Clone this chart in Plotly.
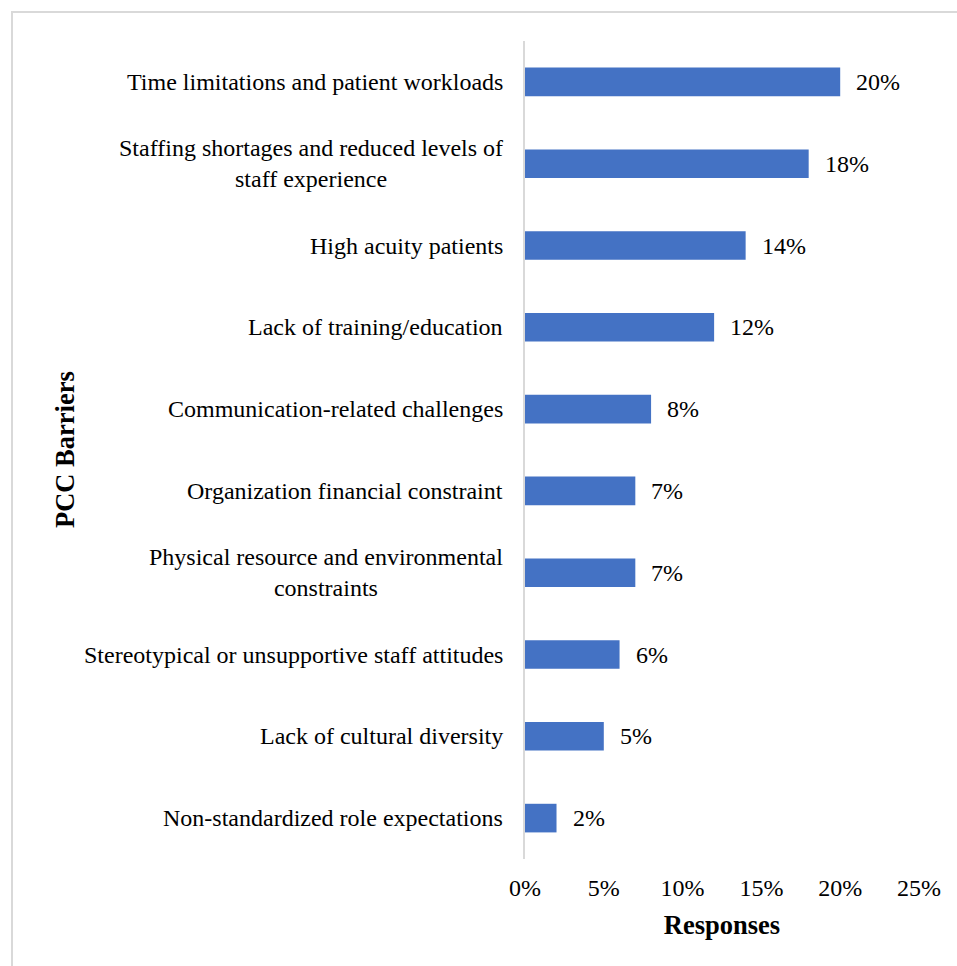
import plotly.graph_objects as go

# Barriers to person-centred care, top to bottom as listed
barriers = [
    "Time limitations and patient workloads",
    "Staffing shortages and reduced levels of<br>staff experience",
    "High acuity patients",
    "Lack of training/education",
    "Communication-related challenges",
    "Organization financial constraint",
    "Physical resource and environmental<br>constraints",
    "Stereotypical or unsupportive staff attitudes",
    "Lack of cultural diversity",
    "Non-standardized role expectations",
]
responses = [20, 18, 14, 12, 8, 7, 7, 6, 5, 2]
x_ticks = [0, 5, 10, 15, 20, 25]
x_tick_labels = ["0%", "5%", "10%", "15%", "20%", "25%"]

W, H = 957, 966
ML, MR, MT, MB = 525, 38, 41, 107
FONT = "Liberation Serif, Times New Roman, serif"
FS = 24
TS = 26.5
BLUE = "#4472C4"
GRID = "#D9D9D9"

fig = go.Figure(
    go.Bar(
        x=responses,
        y=barriers,
        orientation="h",
        marker=dict(color=BLUE, line=dict(width=0)),
        width=0.35,
        hoverinfo="skip",
    )
)

# value labels to the right of each bar
for b, v in zip(barriers, responses):
    fig.add_annotation(
        x=v, y=b, xref="x", yref="y", text=f"{v}%", showarrow=False,
        xanchor="left", xshift=14, font=dict(family=FONT, size=FS, color="#000"),
    )

# category labels, centred per line and right-aligned against the axis
for b in barriers:
    fig.add_annotation(
        x=0, y=b, xref="paper", yref="y", text=b, showarrow=False,
        xanchor="right", align="center", xshift=-20,
        font=dict(family=FONT, size=FS, color="#000"),
    )

pw = W - ML - MR
ph = H - MT - MB
# outer chart border
fig.add_shape(
    type="rect", xref="paper", yref="paper",
    x0=(12 - ML) / pw, x1=(W + 20 - ML) / pw,
    y0=-(H + 20 - MT - ph) / ph, y1=(ph + MT - 12) / ph,
    line=dict(color=GRID, width=2), fillcolor="rgba(0,0,0,0)",
)

fig.update_layout(
    width=W, height=H,
    margin=dict(l=ML, r=MR, t=MT, b=MB),
    paper_bgcolor="white", plot_bgcolor="white",
    showlegend=False,
    font=dict(family=FONT, size=FS, color="#000"),
    xaxis=dict(
        range=[0, 25], tickvals=x_ticks, ticktext=x_tick_labels,
        showgrid=False, zeroline=False, showline=False, ticks="",
        tickfont=dict(family=FONT, size=FS, color="#000"),
        ticklabelstandoff=12,
        title=dict(text="<b>Responses</b>", standoff=15,
                   font=dict(family=FONT, size=TS, color="#000")),
        fixedrange=True,
    ),
    yaxis=dict(
        autorange="reversed", showticklabels=False, ticks="",
        showgrid=False, zeroline=False,
        showline=True, linecolor=GRID, linewidth=2,
        fixedrange=True,
    ),
)

fig.add_annotation(
    x=0, y=0.5, xref="paper", yref="paper", xshift=-(ML - 65),
    text="<b>PCC Barriers</b>", textangle=-90, showarrow=False,
    xanchor="center", yanchor="middle",
    font=dict(family=FONT, size=TS, color="#000"),
)

fig.write_html("out.html")
